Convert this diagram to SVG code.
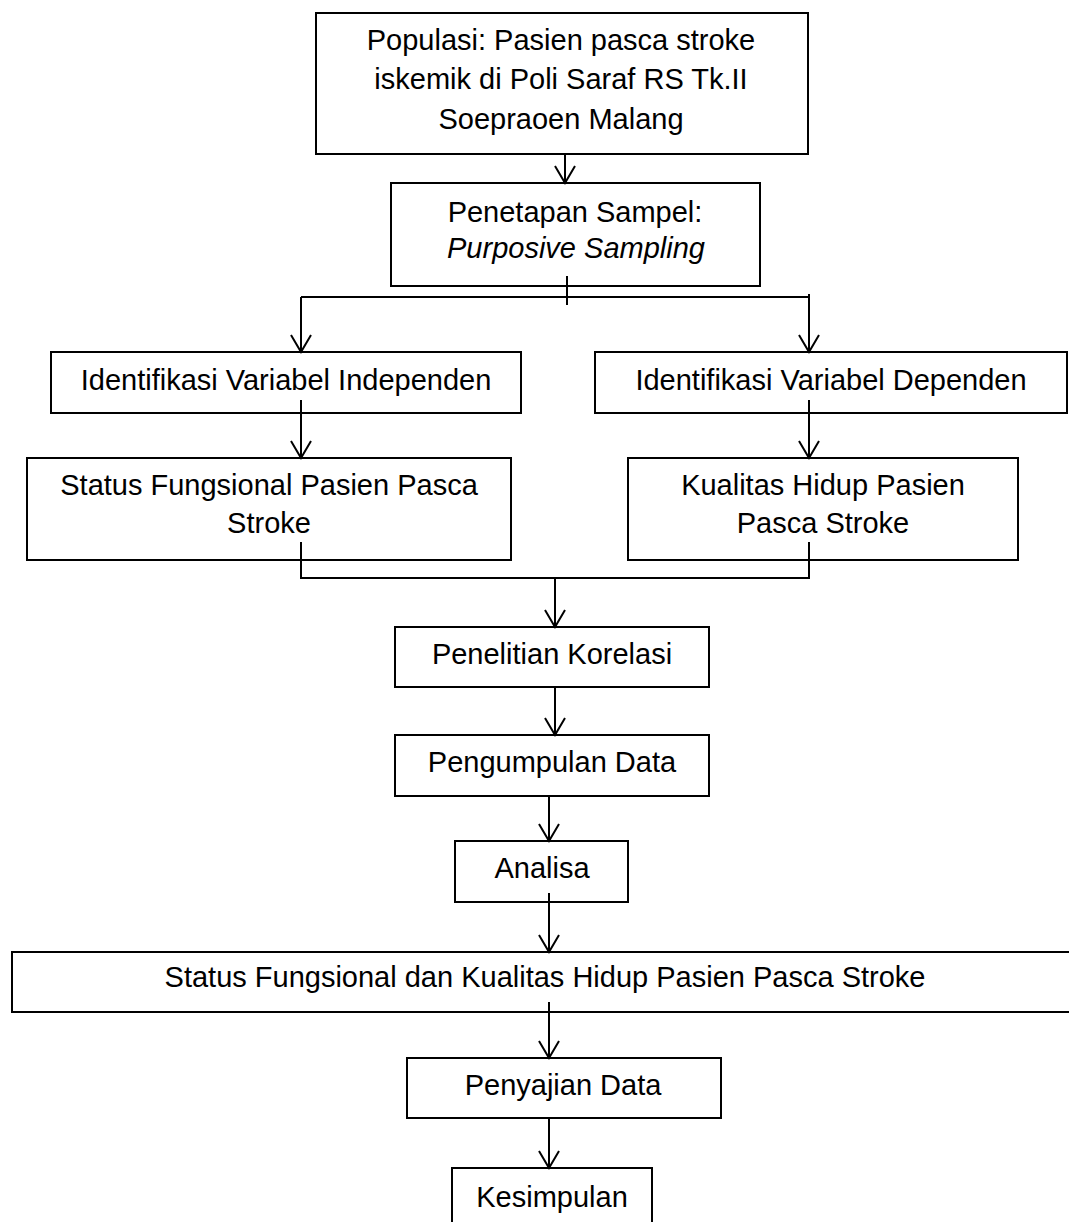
<svg xmlns="http://www.w3.org/2000/svg" width="1069" height="1222" viewBox="0 0 1069 1222">
<style>
.box{fill:#fff;stroke:#000;stroke-width:2}
.t{font-family:"Liberation Sans",Arial,sans-serif;font-size:29px;fill:#000;text-anchor:middle}
.c{fill:none;stroke:#000;stroke-width:2}
</style>
<defs>
<marker id="arr" markerUnits="userSpaceOnUse" viewBox="-2 -2 22 24" markerWidth="22" markerHeight="24" refX="17" refY="10" orient="auto">
<path d="M0,0 L17,10 L0,20" fill="none" stroke="#000" stroke-width="2"/>
</marker>
</defs>
<rect width="1069" height="1222" fill="#fff"/>
<g id="n1"><rect class="box" x="316" y="13" width="492" height="141"/>
<text class="t" x="561" y="50">Populasi: Pasien pasca stroke</text>
<text class="t" x="561" y="89">iskemik di Poli Saraf RS Tk.II</text>
<text class="t" x="561" y="129">Soepraoen Malang</text></g>
<g id="n2"><rect class="box" x="391" y="183" width="369" height="103"/>
<text class="t" x="575" y="222">Penetapan Sampel:</text>
<text class="t" x="576" y="258" font-style="italic">Purposive Sampling</text></g>
<g id="n3"><rect class="box" x="51" y="352" width="470" height="61"/>
<text class="t" x="286" y="390">Identifikasi Variabel Independen</text></g>
<g id="n4"><rect class="box" x="595" y="352" width="472" height="61"/>
<text class="t" x="831" y="390">Identifikasi Variabel Dependen</text></g>
<g id="n5"><rect class="box" x="27" y="458" width="484" height="102"/>
<text class="t" x="269" y="495">Status Fungsional Pasien Pasca</text>
<text class="t" x="269" y="533">Stroke</text></g>
<g id="n6"><rect class="box" x="628" y="458" width="390" height="102"/>
<text class="t" x="823" y="495">Kualitas Hidup Pasien</text>
<text class="t" x="823" y="533">Pasca Stroke</text></g>
<g id="n7"><rect class="box" x="395" y="627" width="314" height="60"/>
<text class="t" x="552" y="664">Penelitian Korelasi</text></g>
<g id="n8"><rect class="box" x="395" y="735" width="314" height="61"/>
<text class="t" x="552" y="772">Pengumpulan Data</text></g>
<g id="n9"><rect class="box" x="455" y="841" width="173" height="61"/>
<text class="t" x="542" y="878">Analisa</text></g>
<g id="n10"><rect class="box" x="12" y="952" width="1065" height="60"/>
<text class="t" x="545" y="987">Status Fungsional dan Kualitas Hidup Pasien Pasca Stroke</text></g>
<g id="n11"><rect class="box" x="407" y="1058" width="314" height="60"/>
<text class="t" x="563" y="1095">Penyajian Data</text></g>
<g id="n12"><rect class="box" x="452" y="1168" width="200" height="70"/>
<text class="t" x="552" y="1207">Kesimpulan</text></g>
<g id="connectors">
<path class="c" d="M565,154 V183" marker-end="url(#arr)"/>
<path class="c" d="M567,276 V305"/>
<path class="c" d="M301,297 H809"/>
<path class="c" d="M301,297 V352" marker-end="url(#arr)"/>
<path class="c" d="M809,294 V352" marker-end="url(#arr)"/>
<path class="c" d="M301,400 V458" marker-end="url(#arr)"/>
<path class="c" d="M809,400 V458" marker-end="url(#arr)"/>
<path class="c" d="M301,542 V578 H809 V542"/>
<path class="c" d="M555,578 V627" marker-end="url(#arr)"/>
<path class="c" d="M555,687 V735" marker-end="url(#arr)"/>
<path class="c" d="M549,796 V841" marker-end="url(#arr)"/>
<path class="c" d="M549,893 V952" marker-end="url(#arr)"/>
<path class="c" d="M549,1002 V1058" marker-end="url(#arr)"/>
<path class="c" d="M549,1118 V1168" marker-end="url(#arr)"/>
</g>
</svg>
